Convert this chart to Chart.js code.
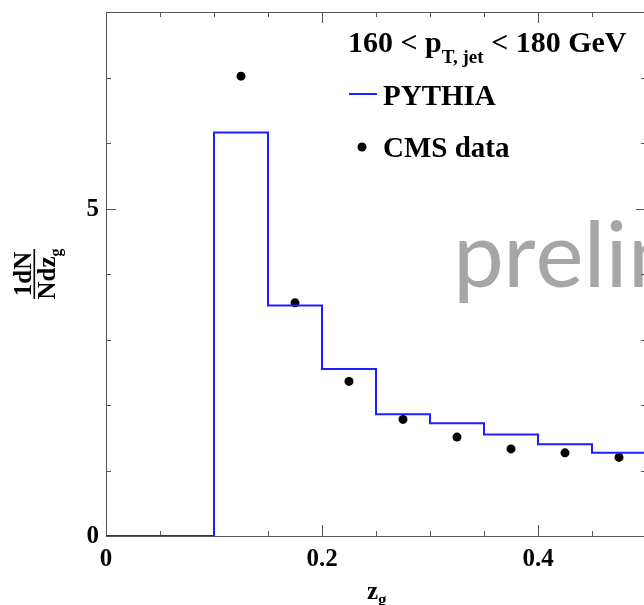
<!DOCTYPE html>
<html>
<head>
<meta charset="utf-8">
<script src="https://cdn.jsdelivr.net/npm/chart.js@4"></script>
<style>
  html, body { margin: 0; padding: 0; background: #fff; overflow: hidden; }
  #zgChart { display: block; }
</style>
</head>
<body>
<canvas id="zgChart" width="660" height="605"></canvas>
<script>
// histogram bin edges and PYTHIA values per bin
const binEdges = [0, 0.1, 0.15, 0.2, 0.25, 0.3, 0.35, 0.4, 0.45, 0.5];
const pythiaValues = [0, 6.16, 3.52, 2.55, 1.86, 1.72, 1.55, 1.40, 1.27];

// measured points at bin centres
const dataZg = [0.125, 0.175, 0.225, 0.275, 0.325, 0.375, 0.425, 0.475];
const cmsValues = [7.02, 3.56, 2.36, 1.78, 1.51, 1.33, 1.27, 1.20];

// axis ticks
const xMajorTicks = [0, 0.2, 0.4];
const xTickLabels = ['0', '0.2', '0.4'];
const xMinorTicks = [0.05, 0.1, 0.15, 0.25, 0.3, 0.35, 0.45];
const yMajorTicks = [0, 5];
const yTickLabels = ['0', '5'];
const yMinorTicks = [1, 2, 3, 4, 6, 7];

const serif = '"Liberation Serif", "Times New Roman", serif';
const axisColor = '#555';

// histogram outline: each bin starts at its left edge, last value closes at 0.5
const histPoints = pythiaValues.map((v, i) => ({ x: binEdges[i], y: v }));
histPoints.push({ x: binEdges[binEdges.length - 1], y: pythiaValues[pythiaValues.length - 1] });

const cmsPoints = dataZg.map((z, i) => ({ x: z, y: cmsValues[i] }));

// draws text with a lowered subscript, returns end x
function drawSub(ctx, x, y, main, sub, size, subSize, drop) {
  ctx.font = `bold ${size}px ${serif}`;
  ctx.fillText(main, x, y);
  x += ctx.measureText(main).width;
  ctx.font = `bold ${subSize}px ${serif}`;
  ctx.fillText(sub, x, y + drop);
  return x + ctx.measureText(sub).width;
}

const framePlugin = {
  id: 'frame',
  beforeDatasetsDraw(chart) {
    const ctx = chart.ctx;
    const { left, right, top, bottom } = chart.chartArea;
    const xs = chart.scales.x, ys = chart.scales.y;
    ctx.save();

    // watermark sits behind the data
    ctx.fillStyle = '#a6a6a6';
    ctx.font = '96px Carlito, Calibri, "Open Sans", sans-serif';
    ctx.textAlign = 'left';
    ctx.textBaseline = 'alphabetic';
    ctx.fillText('preliminary', 453, 287);

    ctx.strokeStyle = axisColor;
    ctx.lineWidth = 1;
    ctx.strokeRect(left + 0.5, top + 0.5, right - left, bottom - top);

    ctx.beginPath();
    const xTick = (v, len) => {
      const px = Math.round(xs.getPixelForValue(v)) + 0.5;
      ctx.moveTo(px, bottom); ctx.lineTo(px, bottom - len);
      ctx.moveTo(px, top); ctx.lineTo(px, top + len);
    };
    const yTick = (v, len) => {
      const py = Math.round(ys.getPixelForValue(v)) + 0.5;
      ctx.moveTo(left, py); ctx.lineTo(left + len, py);
      ctx.moveTo(right, py); ctx.lineTo(right - len, py);
    };
    xMajorTicks.forEach(v => xTick(v, 11));
    xMinorTicks.forEach(v => xTick(v, 5));
    yMajorTicks.forEach(v => yTick(v, 10));
    yMinorTicks.forEach(v => yTick(v, 5));
    ctx.stroke();
    ctx.restore();
  },
  afterDraw(chart) {
    const ctx = chart.ctx;
    const { left, right, top, bottom } = chart.chartArea;
    const xs = chart.scales.x, ys = chart.scales.y;
    ctx.save();
    ctx.fillStyle = '#000';

    // tick labels
    ctx.font = `bold 25px ${serif}`;
    ctx.textAlign = 'center';
    ctx.textBaseline = 'alphabetic';
    xMajorTicks.forEach((v, i) => ctx.fillText(xTickLabels[i], xs.getPixelForValue(v), 566));
    ctx.textAlign = 'right';
    ctx.textBaseline = 'middle';
    yMajorTicks.forEach((v, i) => ctx.fillText(yTickLabels[i], 99, ys.getPixelForValue(v) + 1));

    // x title z_g centred on the axis
    ctx.textAlign = 'left';
    ctx.textBaseline = 'alphabetic';
    const cx = (left + right) / 2;
    drawSub(ctx, cx - 9, 599, 'z', 'g', 25, 17, 6);

    // y title: fraction 1dN / Ndz_g, rotated
    ctx.save();
    ctx.translate(34, (top + bottom) / 2);
    ctx.rotate(-Math.PI / 2);
    ctx.font = `bold 25px ${serif}`;
    ctx.textAlign = 'center';
    ctx.fillText('1dN', 0, -3);
    ctx.fillRect(-25, -0.5, 50, 1.6);
    ctx.textAlign = 'left';
    ctx.font = `bold 25px ${serif}`;
    const wNdz = ctx.measureText('Ndz').width;
    drawSub(ctx, -wNdz / 2 - 4, 21, 'Ndz', 'g', 25, 16, 6);
    ctx.restore();

    // legend block
    ctx.textAlign = 'left';
    ctx.textBaseline = 'alphabetic';
    let x = drawSub(ctx, 348, 52, '160 < p', 'T, jet', 30, 19, 11);
    ctx.font = `bold 30px ${serif}`;
    ctx.fillText(' < 180 GeV', x, 52);

    ctx.strokeStyle = 'rgb(30,30,255)';
    ctx.lineWidth = 2;
    ctx.beginPath();
    ctx.moveTo(349, 94); ctx.lineTo(377, 94);
    ctx.stroke();
    ctx.font = `bold 29px ${serif}`;
    ctx.fillText('PYTHIA', 383, 105);

    ctx.beginPath();
    ctx.arc(362, 147, 4.5, 0, Math.PI * 2);
    ctx.fill();
    ctx.fillText('CMS data', 383, 157);
    ctx.restore();
  }
};

new Chart(document.getElementById('zgChart'), {
  type: 'scatter',
  data: {
    datasets: [
      {
        type: 'line',
        label: 'PYTHIA',
        data: histPoints,
        stepped: 'before',
        borderColor: 'rgb(30,30,255)',
        borderWidth: 2,
        pointRadius: 0,
        fill: false
      },
      {
        label: 'CMS data',
        data: cmsPoints,
        backgroundColor: '#000',
        borderWidth: 0,
        pointRadius: 4.5
      }
    ]
  },
  options: {
    responsive: false,
    animation: false,
    layout: { padding: { left: 106, top: 12, right: 14, bottom: 69 } },
    scales: {
      x: { type: 'linear', min: 0, max: 0.5, display: false },
      y: { type: 'linear', min: 0, max: 8, display: false }
    },
    plugins: {
      legend: { display: false },
      tooltip: { enabled: false }
    }
  },
  plugins: [framePlugin]
});
</script>
</body>
</html>
